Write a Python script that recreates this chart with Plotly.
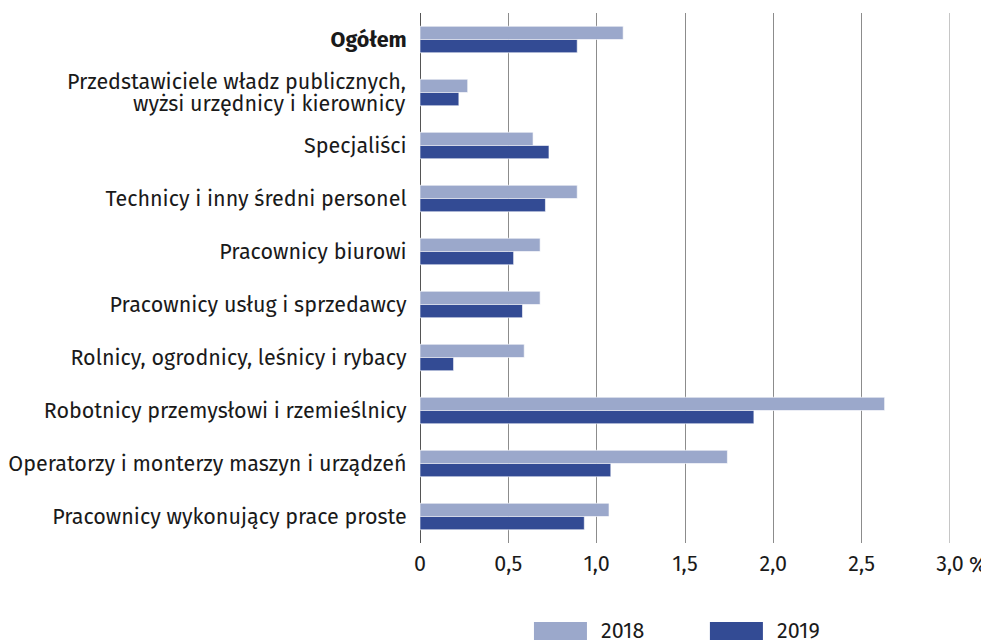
import plotly.graph_objects as go

categories = [
    "Ogółem",
    "Przedstawiciele władz publicznych, wyżsi urzędnicy i kierownicy",
    "Specjaliści",
    "Technicy i inny średni personel",
    "Pracownicy biurowi",
    "Pracownicy usług i sprzedawcy",
    "Rolnicy, ogrodnicy, leśnicy i rybacy",
    "Robotnicy przemysłowi i rzemieślnicy",
    "Operatorzy i monterzy maszyn i urządzeń",
    "Pracownicy wykonujący prace proste",
]
category_labels = [
    "<b>Ogółem</b>",
    "",  # drawn as two annotation lines below (tighter line spacing)
    "Specjaliści",
    "Technicy i inny średni personel",
    "Pracownicy biurowi",
    "Pracownicy usług i sprzedawcy",
    "Rolnicy, ogrodnicy, leśnicy i rybacy",
    "Robotnicy przemysłowi i rzemieślnicy",
    "Operatorzy i monterzy maszyn i urządzeń",
    "Pracownicy wykonujący prace proste",
]
two_line_label = ["Przedstawiciele władz publicznych,", "wyżsi urzędnicy i kierownicy"]
values_2018 = [1.15, 0.27, 0.64, 0.89, 0.68, 0.68, 0.59, 2.63, 1.74, 1.07]
values_2019 = [0.89, 0.22, 0.73, 0.71, 0.53, 0.58, 0.19, 1.89, 1.08, 0.93]
x_tickvals = [0, 0.5, 1.0, 1.5, 2.0, 2.5, 3.0]
x_ticktext = ["0", "0,5", "1,0", "1,5", "2,0", "2,5", "3,0"]
series_names = ["2018", "2019"]
colors = ["#9BA8CB", "#334B94"]

FONT = "Fira Sans, Noto Sans, sans-serif"
FS = 21.5

fig = go.Figure()
for name, vals, col in zip(series_names, [values_2018, values_2019], colors):
    fig.add_trace(go.Bar(
        y=categories, x=vals, name=name, orientation="h",
        marker=dict(color=col, line=dict(color="rgba(255,255,255,0.6)", width=1)),
        showlegend=False,
    ))

fig.update_layout(
    width=981, height=633,
    margin=dict(l=412, r=39, t=5, b=98, autoexpand=False),
    barmode="group", bargap=0.5, bargroupgap=0,
    plot_bgcolor="white", paper_bgcolor="white",
    font=dict(family=FONT, size=FS, color="#1a1a1a"),
    xaxis=dict(
        range=[0, 3.0], tickvals=x_tickvals, ticktext=x_ticktext,
        showgrid=True, gridcolor="#8c8c8c", gridwidth=1,
        zeroline=True, zerolinecolor="#555555", zerolinewidth=1,
        ticks="outside", ticklen=1, tickcolor="rgba(0,0,0,0)",
        showline=False, fixedrange=True, automargin=False,
        tickfont=dict(size=FS),
    ),
    yaxis=dict(
        type="category", autorange="reversed", automargin=False,
        tickvals=categories, ticktext=category_labels,
        showgrid=False, ticks="outside", ticklen=8, tickcolor="rgba(0,0,0,0)",
        showline=False, tickfont=dict(size=FS),
    ),
)

# gridline at the right edge (3,0)
fig.add_shape(type="line", xref="x", yref="paper", x0=3.0, x1=3.0, y0=0, y1=1,
              line=dict(color="#8c8c8c", width=1))

# two-line category label
for txt, shift in zip(two_line_label, [11, -11]):
    fig.add_annotation(x=0, y=categories[1], xref="paper", yref="y", text=txt,
                       showarrow=False, xanchor="right", yanchor="middle",
                       xshift=-12, yshift=shift, font=dict(size=FS))

# percent sign after last tick
fig.add_annotation(x=3.0, y=-0.0415, xref="x", yref="paper", text="%",
                   showarrow=False, xanchor="left", yanchor="middle",
                   xshift=17, font=dict(size=FS))

# manual legend
legend_items = [(0.215, 0.315), (0.547, 0.647)]
for (x0, x1), name, col in zip(legend_items, series_names, colors):
    fig.add_shape(type="rect", xref="paper", yref="paper",
                  x0=x0, x1=x1, y0=-0.183, y1=-0.149,
                  fillcolor=col, line=dict(width=0))
    fig.add_annotation(x=x1 + 0.022, y=-0.166, xref="paper", yref="paper",
                       text=name, showarrow=False, xanchor="left", yanchor="middle",
                       font=dict(size=FS))

fig.write_html("out.html")
